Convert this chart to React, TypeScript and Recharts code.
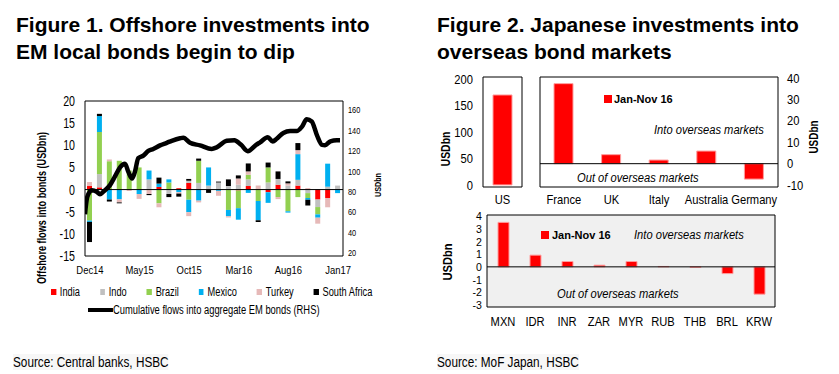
import React from 'react';
import { ComposedChart, BarChart, Bar, Line, XAxis, YAxis, ReferenceLine, ReferenceArea } from 'recharts';

const FONT = "'Liberation Sans', Arial, sans-serif";

// ---------- Figure 1 data ----------
const months = ['Dec14','Jan15','Feb15','Mar15','Apr15','May15','Jun15','Jul15','Aug15','Sep15','Oct15','Nov15','Dec15','Jan16','Feb16','Mar16','Apr16','May16','Jun16','Jul16','Aug16','Sep16','Oct16','Nov16','Dec16','Jan17'];
const india  = [0.8, 0.5, 0, 0, 0, 0, 0, 0.6, 0, 0.3, 1.5, 0, 0, 0, 0, -0.2, 0.8, 0, -0.6, 1.1, 0, 0.9, 0, -2.25, -1.9, 0];
const indo   = [0, 3.0, 0, 0, 0, 0, 2.3, 0, -1.0, 0, 0.5, 1.5, 0.9, 1.6, 0.8, 1.1, 1.5, 0, 1.6, 1.3, 0.9, 1.3, -0.8, -1.7, 0.65, 0.9];
const brazil = [-7.0, 9.5, 6.4, 6.5, 4.3, 5.0, 0, -3.1, 1.6, 0, -2.3, 5.0, 0, 0, -4.6, -4.0, 1.05, -2.6, 3.4, -1.7, -4.9, -1.7, -1.1, -1.65, 0, 0];
const mexico = [-0.3, 3.6, -2.25, -2.2, 0, -1.0, 2.0, 0.75, 0.7, -0.6, -2.8, -2.5, 4.1, -0.3, -1.4, -2.6, -0.75, -4.3, -2.4, 0, -0.3, 5.8, -0.4, -0.75, 5.2, -0.8];
const turkey = [0.9, 0, 0.4, -0.7, -0.3, -1.1, -1.0, -0.9, 0, -0.3, -0.9, -0.4, 0, -1.1, -0.3, 1.4, 0.75, 0.9, 0, -0.45, 0.5, 0.9, 0.35, -1.35, -2.1, 0];
const safrica = [-4.55, 0.5, -0.45, -0.2, 0, 0, -0.25, 1.35, -0.7, -0.7, 0.4, 0.5, -0.75, 0.2, 1.5, 0.7, 1.8, -0.4, 1.1, 1.7, 0.45, 1.6, -1.3, 0, 0, 0];
const seriesNames = ['India', 'Indo', 'Brazil', 'Mexico', 'Turkey', 'South Africa'];
const seriesColors = ['#ff0000', '#c0c0c0', '#92d050', '#00b0f0', '#e6b9b8', '#000000'];
const seriesValues = [india, indo, brazil, mexico, turkey, safrica];
const leftTicks = [-15, -10, -5, 0, 5, 10, 15, 20];
const rightTicks = [20, 40, 60, 80, 100, 120, 140, 160];
const lineName = 'Cumulative flows into aggregate EM bonds (RHS)';
// cumulative flows: position in months from start of Dec14, value USDbn
const lineT = [0, 0.23, 0.68, 1.18, 1.51, 1.84, 2.52, 3.02, 3.53, 4.03, 4.37, 4.74, 5.04, 5.37, 5.88, 6.38, 6.88, 7.56, 8.24, 8.74, 9.58, 9.91, 10.58, 11.59, 12.77, 13.27, 14.28, 15.05, 15.73, 16.4, 17.24, 17.64, 18.42, 18.92, 19.32, 19.99, 20.67, 21.34, 21.85, 22.35, 22.85, 23.39, 23.89, 24.19, 24.73, 25.37, 25.7];
const lineV = [58, 75, 81.5, 80, 77.5, 80, 86.5, 95, 104, 107.5, 99.5, 93, 100, 113, 115.5, 120, 122, 125.5, 128, 130, 132.5, 133, 128, 125.5, 122, 123.5, 130, 130.5, 126, 119.8, 126, 128.5, 133.5, 129.3, 132, 137.7, 139.5, 139.5, 143.6, 151, 149, 135, 126, 125.7, 129.5, 130.5, 130.5];

// ---------- Figure 2 data ----------
const usCats = ['US'];
const usVals = [170];
const usTicks = [0, 50, 100, 150, 200];
const euCats = ['France', 'UK', 'Italy', 'Australia', 'Germany'];
const euVals = [37.4, 4.2, 1.7, 5.9, -7.2];
const euTicks = [-10, 0, 10, 20, 30, 40];
const emCats = ['MXN', 'IDR', 'INR', 'ZAR', 'MYR', 'RUB', 'THB', 'BRL', 'KRW'];
const emVals = [3.5, 0.92, 0.42, 0.13, 0.42, 0.03, -0.05, -0.53, -2.15];
const emTicks = [-3, -2, -1, 0, 1, 2, 3, 4];
const legend2 = 'Jan-Nov 16';

const fig1Data = months.map((m, i) => {
  const row: any = { month: m };
  seriesNames.forEach((s, k) => { row[s] = seriesValues[k][i]; });
  return row;
});
const lineData = lineT.map((t, i) => ({ t, v: lineV[i] }));
const usData = usCats.map((c, i) => ({ name: c, value: usVals[i] }));
const euData = euCats.map((c, i) => ({ name: c, value: euVals[i] }));
const emData = emCats.map((c, i) => ({ name: c, value: emVals[i] }));

const T = ({ x, y, size, children, bold, italic, sx = 1 }: any) => (
  <div style={{ position: 'absolute', left: x, top: y - size / 2, fontSize: size, lineHeight: `${size}px`, fontWeight: bold ? 700 : 400, fontStyle: italic ? 'italic' : 'normal', fontFamily: FONT, whiteSpace: 'nowrap', color: '#000', transform: `scaleX(${sx})`, transformOrigin: 'left center' }}>{children}</div>
);
const R = ({ x, y, size, children, sx = 1 }: any) => (
  <div style={{ position: 'absolute', left: x, top: y, transform: `translate(-50%, -50%) rotate(-90deg) scaleX(${sx})`, fontSize: size, lineHeight: `${size}px`, fontWeight: 700, fontFamily: FONT, whiteSpace: 'nowrap' }}>{children}</div>
);

const ScaledTick = ({ x, y, payload, textAnchor, size, sx, vert }: any) => (
  <g transform={`translate(${x},${y})`}>
    <text transform={`scale(${sx},1)`} textAnchor={textAnchor} fontSize={size} fontFamily={FONT} fill="#000" dy={vert ? '0.71em' : '0.355em'}>
      {payload.value}
    </text>
  </g>
);
const tk = (size: number, sx: number, vert = false) => (p: any) => <ScaledTick {...p} key={p.index} size={size} sx={sx} vert={vert} />;

export default function App() {
  return (
    <div style={{ position: 'absolute', left: 0, top: 0, width: 839, height: 374, background: '#fff', overflow: 'hidden', fontFamily: FONT }}>
      {/* Titles */}
      <div style={{ position: 'absolute', left: 16, top: 11, fontSize: 21, lineHeight: '27px', fontWeight: 700, fontFamily: FONT, whiteSpace: 'nowrap' }}>
        Figure 1. Offshore investments into<br />EM local bonds begin to dip
      </div>
      <div style={{ position: 'absolute', left: 437, top: 11, fontSize: 21, lineHeight: '27px', fontWeight: 700, fontFamily: FONT, whiteSpace: 'nowrap' }}>
        Figure 2. Japanese investments into<br />overseas bond markets
      </div>

      {/* Figure 1 */}
      <div style={{ position: 'absolute', left: 0, top: 90 }}>
        <ComposedChart width={400} height={186} data={fig1Data} stackOffset="sign" margin={{ top: 11, right: 17, bottom: 0, left: 0 }}>
          <XAxis xAxisId="cat" dataKey="month" interval={4} tickLine={false} axisLine={false} tickSize={0} tickMargin={10} height={20} tick={tk(11, 0.86, true)} />
          <XAxis xAxisId="t" type="number" dataKey="t" domain={[0, 26]} allowDataOverflow hide />
          <YAxis yAxisId="left" domain={[-15, 20]} ticks={leftTicks} interval={0} allowDataOverflow width={85} tickLine={false} axisLine={false} tickSize={0} tickMargin={10} tick={tk(14, 0.76)} />
          <YAxis yAxisId="right" orientation="right" domain={[17, 169]} ticks={rightTicks} interval={0} allowDataOverflow width={40} tickLine={false} axisLine={false} tickSize={0} tickMargin={5} tick={tk(9, 0.82)} />
          <ReferenceArea xAxisId="cat" yAxisId="left" y1={-15} y2={20} fill="none" stroke="#000" strokeWidth={1} />
          {seriesNames.map((s, k) => (
            <Bar key={s} dataKey={s} stackId="a" xAxisId="cat" yAxisId="left" fill={seriesColors[k]} barSize={5} isAnimationActive={false} />
          ))}
          <ReferenceLine xAxisId="cat" yAxisId="left" y={0} stroke="#000" strokeWidth={1} />
          <Line data={lineData} xAxisId="t" yAxisId="right" dataKey="v" type="monotone" stroke="#000" strokeWidth={4.5} dot={false} isAnimationActive={false} />
        </ComposedChart>
      </div>
      <R x={42} y={208} size={12} sx={0.76}>Offshore flows into bonds (USDbn)</R>
      <R x={378} y={185} size={8.5} sx={0.85}>USDbn</R>
      <div style={{ position: 'absolute', left: 51, top: 286, display: 'flex', alignItems: 'center', gap: 26, fontFamily: FONT, fontSize: 12, lineHeight: '12px', whiteSpace: 'nowrap', transform: 'scaleX(0.77)', transformOrigin: 'left center' }}>
        {seriesNames.map((s, k) => (
          <div key={s} style={{ display: 'flex', alignItems: 'center' }}>
            <div style={{ width: 6.5, height: 6, background: seriesColors[k], marginRight: 5 }} />
            <span>{s}</span>
          </div>
        ))}
      </div>
      <div style={{ position: 'absolute', left: 88, top: 304, display: 'flex', alignItems: 'center', fontFamily: FONT, fontSize: 12, lineHeight: '12px', whiteSpace: 'nowrap', transform: 'scaleX(0.78)', transformOrigin: 'left center' }}>
        <div style={{ width: 32, height: 4, background: '#000' }} />
        <span>{lineName}</span>
      </div>

      {/* Figure 2 top-left: US */}
      <div style={{ position: 'absolute', left: 430, top: 60 }}>
        <BarChart width={100} height={152} data={usData} margin={{ top: 17, right: 8, bottom: 0, left: 0 }}>
          <XAxis dataKey="name" interval={0} tickLine={false} axisLine={false} tickSize={0} tickMargin={8} height={25} tick={tk(13, 0.86, true)} />
          <YAxis domain={[-4, 204]} ticks={usTicks} interval={0} allowDataOverflow width={53} tickLine={false} axisLine={false} tickSize={0} tickMargin={10} tick={tk(13, 0.86)} />
          <ReferenceArea y1={-4} y2={204} fill="none" stroke="#000" strokeWidth={1} />
          <Bar dataKey="value" fill="#ff0000" stroke="#ff9c9c" strokeWidth={1} barSize={19} isAnimationActive={false} />
        </BarChart>
      </div>
      <R x={446} y={149} size={12} sx={0.87}>USDbn</R>

      {/* Figure 2 top-right */}
      <div style={{ position: 'absolute', left: 530, top: 60 }}>
        <BarChart width={300} height={152} data={euData} margin={{ top: 17, right: 7, bottom: 0, left: 10 }}>
          <XAxis dataKey="name" interval={0} tickLine={false} axisLine={false} tickSize={0} tickMargin={8} height={25} tick={tk(13, 0.86, true)} />
          <YAxis orientation="right" domain={[-10.9, 40.5]} ticks={euTicks} interval={0} allowDataOverflow width={45} tickLine={false} axisLine={false} tickSize={0} tickMargin={9} tick={tk(13, 0.86)} />
          <ReferenceArea y1={-10.9} y2={40.5} fill="none" stroke="#000" strokeWidth={1} />
          <ReferenceLine y={0} stroke="#000" strokeWidth={1} />
          <Bar dataKey="value" fill="#ff0000" stroke="#ff9c9c" strokeWidth={1} barSize={19} isAnimationActive={false} />
        </BarChart>
      </div>
      <R x={814} y={137} size={12} sx={0.83}>USDbn</R>
      <div style={{ position: 'absolute', left: 604, top: 95, width: 8, height: 8, background: '#ff0000' }} />
      <T x={614} y={99} size={11} bold>{legend2}</T>
      <T x={654} y={130} size={12} sx={0.93} italic>Into overseas markets</T>
      <T x={577} y={178} size={12} sx={0.93} italic>Out of overseas markets</T>

      {/* Figure 2 bottom */}
      <div style={{ position: 'absolute', left: 430, top: 200 }}>
        <BarChart width={400} height={137} data={emData} margin={{ top: 15, right: 55, bottom: 0, left: 0 }}>
          <XAxis dataKey="name" interval={0} tickLine={false} axisLine={false} tickSize={0} tickMargin={10} height={30} tick={tk(13, 0.86, true)} />
          <YAxis domain={[-3.16, 4.08]} ticks={emTicks} interval={0} allowDataOverflow width={57} tickLine={false} axisLine={false} tickSize={0} tickMargin={5} tick={tk(11.5, 0.92)} />
          <ReferenceArea y1={-3.16} y2={4.08} fill="#f0f0f0" fillOpacity={1} stroke="#000" strokeWidth={1} />
          <ReferenceLine y={0} stroke="#000" strokeWidth={1} />
          <Bar dataKey="value" fill="#ff0000" stroke="#ff9c9c" strokeWidth={1} barSize={11} isAnimationActive={false} />
        </BarChart>
      </div>
      <R x={448} y={262} size={12} sx={0.93}>USDbn</R>
      <div style={{ position: 'absolute', left: 541, top: 231, width: 8, height: 8, background: '#ff0000' }} />
      <T x={552} y={235} size={11} bold>{legend2}</T>
      <T x={634} y={235} size={12} sx={0.93} italic>Into overseas markets</T>
      <T x={557} y={294} size={12} sx={0.93} italic>Out of overseas markets</T>

      {/* Sources */}
      <div style={{ position: 'absolute', left: 13, top: 354, fontSize: 14, lineHeight: '16px', fontFamily: FONT, background: '#f7f7f7', whiteSpace: 'nowrap', transform: 'scaleX(0.84)', transformOrigin: 'left center' }}>Source: Central banks, HSBC</div>
      <div style={{ position: 'absolute', left: 437, top: 354, fontSize: 14, lineHeight: '16px', fontFamily: FONT, background: '#f7f7f7', whiteSpace: 'nowrap', transform: 'scaleX(0.84)', transformOrigin: 'left center' }}>Source: MoF Japan, HSBC</div>
    </div>
  );
}
